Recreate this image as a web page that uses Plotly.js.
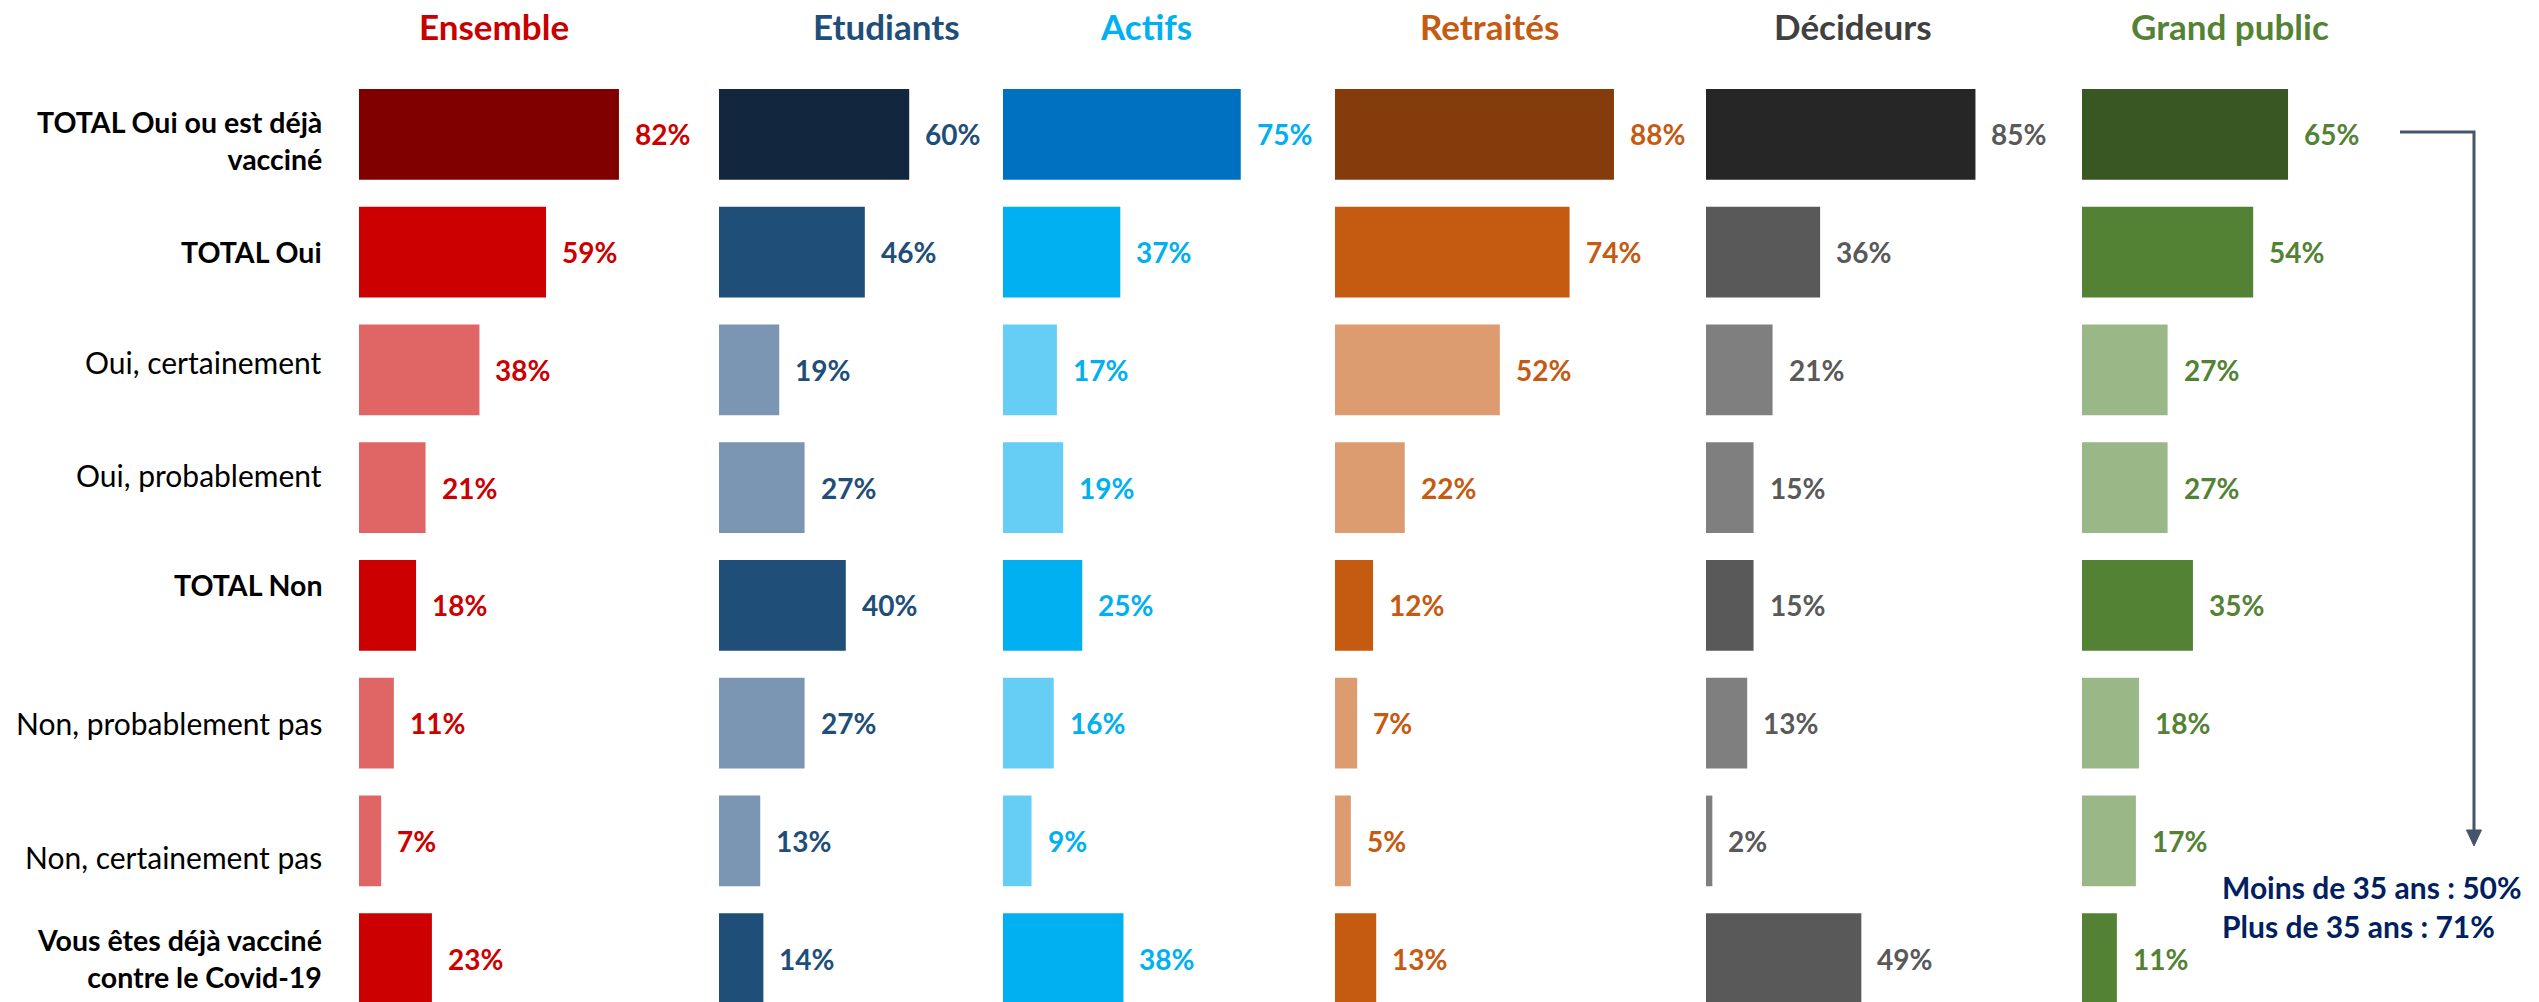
<!DOCTYPE html>
<html>
<head>
<meta charset="utf-8">
<script src="https://cdn.plot.ly/plotly-3.0.1.min.js"></script>
<style>
  html, body { margin: 0; padding: 0; background: #ffffff; }
  #chart { width: 2539px; height: 1002px; }
</style>
</head>
<body>
<div id="chart"></div>
<script>
// ---------- DATA ----------
const categories = [
  "TOTAL Oui ou est déjà vacciné",
  "TOTAL Oui",
  "Oui, certainement",
  "Oui, probablement",
  "TOTAL Non",
  "Non, probablement pas",
  "Non, certainement pas",
  "Vous êtes déjà vacciné contre le Covid-19"
];
const tickLabels = [
  "<b>TOTAL Oui ou est déjà<br>vacciné</b>",
  "<b>TOTAL Oui</b>",
  "Oui, certainement",
  "Oui, probablement",
  "<b>TOTAL Non</b>",
  "Non, probablement pas",
  "Non, certainement pas",
  "<b>Vous êtes déjà vacciné<br>contre le Covid-19</b>"
];
const groups = ["Ensemble", "Etudiants", "Actifs", "Retraités", "Décideurs", "Grand public"];
const ensemble    = [82, 59, 38, 21, 18, 11, 7, 23];
const etudiants   = [60, 46, 19, 27, 40, 27, 13, 14];
const actifs      = [75, 37, 17, 19, 25, 16, 9, 38];
const retraites   = [88, 74, 52, 22, 12, 7, 5, 13];
const decideurs   = [85, 36, 21, 15, 15, 13, 2, 49];
const grandPublic = [65, 54, 27, 27, 35, 18, 17, 11];
const ageNote = ["Moins de 35 ans : 50%", "Plus de 35 ans : 71%"];

// ---------- STYLE / LAYOUT CONFIG ----------
const W = 2539, H = 1002;
const FONT = "Lato, 'Open Sans', sans-serif";
const seriesValues = [ensemble, etudiants, actifs, retraites, decideurs, grandPublic];
// row shade: 0 = dark, 1 = mid, 2 = light
const rowShade = [0, 1, 2, 2, 1, 2, 2, 1];
// small vertical nudges (px) of the row labels, as in the original slide
const labelYShift = [-6, 0, 8, 13, 20, 0, -16, 0];
const palettes = [
  { shades: ["#800000", "#CC0000", "#E06666"], label: "#CC0000", header: "#C80000" },
  { shades: ["#12263D", "#1F4E79", "#7B96B2"], label: "#1F4E79", header: "#1F4E79" },
  { shades: ["#0070C0", "#00B0F0", "#66CDF5"], label: "#00B0F0", header: "#00B0F0" },
  { shades: ["#843C0C", "#C55A11", "#DC9C70"], label: "#C55A11", header: "#C55A11" },
  { shades: ["#262626", "#595959", "#7F7F7F"], label: "#595959", header: "#404040" },
  { shades: ["#385723", "#548235", "#9AB787"], label: "#548235", header: "#548235" }
];
const colStartPx = [359, 719, 1003, 1335, 1706, 2082];
const headerCenterPx = [494, 886, 1146, 1489, 1853, 2230];
const pxPerPct = 3.17;
const xMax = 90;

const traces = [];
const annotations = [];
const layout = {
  width: W, height: H,
  margin: { l: 0, r: 0, t: 0, b: 0, pad: 0 },
  paper_bgcolor: "#ffffff",
  plot_bgcolor: "rgba(0,0,0,0)",
  showlegend: false,
  font: { family: FONT, color: "#000000" },
  yaxis: {
    type: "category",
    categoryorder: "array",
    categoryarray: categories,
    range: [7.368, -1.1415],
    showticklabels: false,
    ticks: "",
    showgrid: false,
    zeroline: false,
    showline: false,
    anchor: "x",
    fixedrange: true
  },
  annotations: annotations,
  shapes: []
};

// row labels (attached to the category axis)
categories.forEach((c, i) => {
  const isBold = tickLabels[i].startsWith("<b>");
  annotations.push({
    xref: "paper", yref: "y",
    x: 324 / W, y: c,
    text: tickLabels[i],
    xanchor: "right", yanchor: "middle", align: "right",
    yshift: labelYShift[i],
    showarrow: false,
    font: { family: FONT, size: isBold ? 28.5 : 30, color: "#000000" }
  });
});

groups.forEach((g, j) => {
  const axName = j === 0 ? "x" : "x" + (j + 1);
  const axKey = j === 0 ? "xaxis" : "xaxis" + (j + 1);
  const x0 = colStartPx[j] / W;
  const x1 = (colStartPx[j] + xMax * pxPerPct) / W;
  layout[axKey] = {
    domain: [x0, x1],
    range: [0, xMax],
    anchor: "y",
    visible: false,
    fixedrange: true
  };
  const vals = seriesValues[j];
  traces.push({
    type: "bar",
    orientation: "h",
    x: vals,
    y: categories,
    xaxis: axName,
    yaxis: "y",
    width: 0.77,
    marker: { color: rowShade.map(s => palettes[j].shades[s]), line: { width: 0 } },
    textposition: "none",
    hoverinfo: "skip",
    cliponaxis: false
  });
  vals.forEach((v, i) => {
    annotations.push({
      xref: axName, yref: "y",
      x: v, y: categories[i],
      text: v + "%",
      xanchor: "left", yanchor: "middle",
      xshift: 14,
      showarrow: false,
      font: { family: FONT, size: 28, color: palettes[j].label, weight: 700 }
    });
  });
  annotations.push({
    xref: "paper", yref: "paper",
    x: headerCenterPx[j] / W, y: 1 - 26 / H,
    text: g,
    xanchor: "center", yanchor: "middle",
    showarrow: false,
    font: { family: FONT, size: 35, color: palettes[j].header, weight: 700 }
  });
});

// age-split note
annotations.push({
  xref: "paper", yref: "paper",
  x: 2220 / W, y: 1 - 906 / H,
  text: ageNote.join("<br>"),
  xanchor: "left", yanchor: "middle", align: "left",
  showarrow: false,
  font: { family: FONT, size: 30, color: "#002060", weight: 700 }
});

// elbow connector + arrowhead
const px = (x) => (x / W).toFixed(5);
const py = (y) => (1 - y / H).toFixed(5);
layout.shapes.push({
  type: "path", xref: "paper", yref: "paper",
  path: `M ${px(2400)},${py(132)} L ${px(2474)},${py(132)} L ${px(2474)},${py(832)}`,
  line: { color: "#44546A", width: 3 },
  fillcolor: "rgba(0,0,0,0)"
});
layout.shapes.push({
  type: "path", xref: "paper", yref: "paper",
  path: `M ${px(2466.5)},${py(830)} L ${px(2481.5)},${py(830)} L ${px(2474)},${py(846)} Z`,
  line: { color: "#44546A", width: 1 },
  fillcolor: "#44546A"
});

Plotly.newPlot("chart", traces, layout, { staticPlot: true, displayModeBar: false });
</script>
</body>
</html>
